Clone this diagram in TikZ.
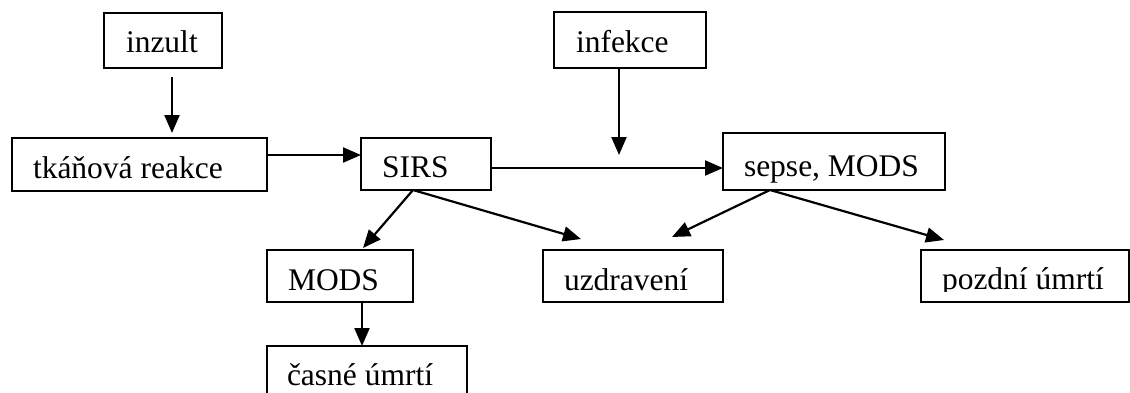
\documentclass[tikz,border=0pt]{standalone}
\usepackage{fontspec}
\setmainfont{Liberation Serif}
\usetikzlibrary{arrows.meta,calc}
\tikzset{
  box/.style={draw, line width=2.2pt, inner sep=0pt, outer sep=0pt, anchor=north west, rectangle},
  txt/.style={inner sep=0pt, outer sep=0pt, anchor=base west, font=\fontsize{31.5}{36}\selectfont},
  arr/.style={line width=2.2pt, -{Triangle[length=18pt,width=15pt]}}
}
\begin{document}
\begin{tikzpicture}[x=1pt,y=-1pt]
\clip (0,0) rectangle (1130,392);
% boxes
\node[box, minimum width=118pt, minimum height=55pt] (inzult) at (104,13) {};
\node[box, minimum width=255pt, minimum height=53pt] (tk) at (12,138) {};
\node[box, minimum width=130pt, minimum height=52pt] (sirs) at (361,138) {};
\node[box, minimum width=152pt, minimum height=56pt] (infekce) at (554,12) {};
\node[box, minimum width=222pt, minimum height=57pt] (sepse) at (723,133) {};
\node[box, minimum width=146pt, minimum height=52pt] (mods) at (267,250) {};
\node[box, minimum width=180pt, minimum height=52pt] (uzdr) at (543,250) {};
\node[box, minimum width=208pt, minimum height=52pt] (pozdni) at (921,250) {};
\node[box, minimum width=200pt, minimum height=56pt] (casne) at (267,346) {};
% texts
\node[txt] (inzultT) at (126,52) {inzult};
\node[txt] (tkT) at (33,178) {tkáňová reakce};
\node[txt] (sirsT) at (382,177) {SIRS};
\node[txt] (infekceT) at (576,52) {infekce};
\node[txt] (sepseT) at (744,176) {sepse, MODS};
\node[txt] (modsT) at (288,290) {MODS};
\node[txt] (uzdrT) at (564,290) {uzdravení};
\begin{scope}
\clip (900,240) rectangle (1130,291);
\node[txt] (pozdniT) at (942,289) {pozdní úmrtí};
\end{scope}
\node[txt] (casneT) at (287,385) {časné úmrtí};
% connectors
\coordinate (infx) at (619,155);
\draw[arr] ($(inzult.south)+(9,9)$) -- ($(tk.north)+(32.5,-5)$);
\draw[arr] ($(tk.east)+(0,-9.5)$) -- ($(tk.east -| sirs.west)+(0,-9.5)$);
\draw[arr] ($(infekce.south)+(-11,0)$) -- (infx);
\draw[arr] ($(sirs.east)+(0,4)$) -- ($(sirs.east -| sepse.west)+(0,4)$);
\draw[arr] ($(sirs.south)+(-13,0)$) -- ($(mods.north)+(23,-2)$);
\draw[arr] ($(sirs.south)+(-13,0)$) -- ($(uzdr.north)+(-52,-11)$);
\draw[arr] ($(sepse.south)+(-64,0)$) -- ($(uzdr.north)+(39,-13)$);
\draw[arr] ($(sepse.south)+(-64,0)$) -- ($(pozdni.north)+(-81,-10)$);
\draw[arr] ($(mods.south)+(22,0)$) -- ($(casne.north)+(-5,0)$);
\end{tikzpicture}
\end{document}
